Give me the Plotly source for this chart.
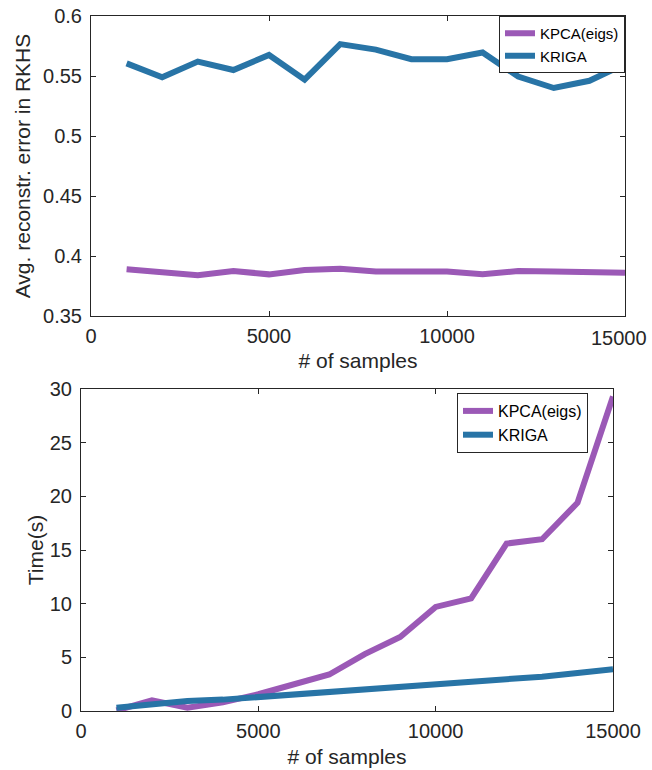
import plotly.graph_objects as go

samples = [1000, 2000, 3000, 4000, 5000, 6000, 7000, 8000, 9000, 10000,
           11000, 12000, 13000, 14000, 15000]

err_kpca = [0.389, 0.386, 0.384, 0.3875, 0.3847, 0.3883, 0.3894, 0.387, 0.3875,
            0.387, 0.3847, 0.3875, 0.387, 0.386, 0.386]
err_kriga = [0.5605, 0.549, 0.562, 0.555, 0.5675, 0.547, 0.5766, 0.572, 0.564,
             0.564, 0.5696, 0.5495, 0.540, 0.546, 0.560]

time_kpca = [0.05, 1.0, 0.3, 0.8, 1.56, 2.5, 3.4, 5.3, 6.9, 9.7, 10.5, 15.6,
             16.0, 19.4, 29.3]
time_kriga = [0.3, 0.62, 0.93, 1.06, 1.3, 1.6, 1.8, 2.05, 2.2, 2.55, 2.8, 3.0,
              3.2, 3.55, 3.9]

top_ticks_y = [0.35, 0.4, 0.45, 0.5, 0.55, 0.6]
top_ticklabels_y = ["0.35", "0.4", "0.45", "0.5", "0.55", "0.6"]
x_ticks = [0, 5000, 10000, 15000]
x_ticklabels_top = ["0", "5000", "10000", ""]
x_ticklabels = ["0", "5000", "10000", "15000"]
bot_ticks_y = [0, 5, 10, 15, 20, 25, 30]
bot_ticklabels_y = ["0", "5", "10", "15", "20", "25", "30"]

PURPLE = "#9B59B6"
BLUE = "#2874A6"
AX = "#262626"
FONT = "Liberation Sans, Arial, sans-serif"
W, H = 652, 770

fig = go.Figure()
fig.add_trace(go.Scatter(x=samples, y=err_kpca, mode="lines", name="KPCA(eigs)",
                         line=dict(color=PURPLE, width=6), xaxis="x", yaxis="y",
                         legend="legend"))
fig.add_trace(go.Scatter(x=samples, y=err_kriga, mode="lines", name="KRIGA",
                         line=dict(color=BLUE, width=6), xaxis="x", yaxis="y",
                         legend="legend"))
fig.add_trace(go.Scatter(x=samples, y=time_kpca, mode="lines", name="KPCA(eigs)",
                         line=dict(color=PURPLE, width=6), xaxis="x2", yaxis="y2",
                         legend="legend2"))
fig.add_trace(go.Scatter(x=samples, y=time_kriga, mode="lines", name="KRIGA",
                         line=dict(color=BLUE, width=6), xaxis="x2", yaxis="y2",
                         legend="legend2"))

axcommon = dict(showline=True, linecolor=AX, linewidth=1, mirror="allticks",
                ticks="inside", ticklen=5, tickcolor=AX, showgrid=False,
                zeroline=False, automargin=False, ticklabeloverflow="allow",
                tickfont=dict(size=20, color=AX, family=FONT))

fig.update_layout(
    template="none",
    width=W, height=H, margin=dict(l=0, r=0, t=0, b=0, pad=0),
    paper_bgcolor="white", plot_bgcolor="white",
    font=dict(family=FONT, color=AX),
    xaxis=dict(domain=[91 / W, 625 / W], range=[0, 15000], tickvals=x_ticks,
               ticktext=x_ticklabels_top, anchor="y", ticklabelstandoff=2,
               title=dict(text="# of samples", font=dict(size=21), standoff=7),
               **axcommon),
    yaxis=dict(domain=[1 - 316 / H, 1 - 16 / H], range=[0.35, 0.6],
               tickvals=top_ticks_y, ticktext=top_ticklabels_y, anchor="x",
               ticklabelstandoff=4,
               title=dict(text="Avg. reconstr. error in RKHS", font=dict(size=21), standoff=6),
               **axcommon),
    xaxis2=dict(domain=[81 / W, 613 / W], range=[0, 15000], tickvals=x_ticks,
                ticktext=x_ticklabels, anchor="y2", ticklabelstandoff=2,
                title=dict(text="# of samples", font=dict(size=21), standoff=8),
                **axcommon),
    yaxis2=dict(domain=[1 - 711 / H, 1 - 389 / H], range=[0, 30],
                tickvals=bot_ticks_y, ticktext=bot_ticklabels_y, anchor="x2",
                ticklabelstandoff=4,
                title=dict(text="Time(s)", font=dict(size=21), standoff=0),
                **axcommon),
    legend=dict(x=625 / W, y=1 - 16 / H, xanchor="right", yanchor="top",
                bgcolor="white", bordercolor=AX, borderwidth=1,
                font=dict(size=15, color="black"), itemwidth=30,
                tracegroupgap=0),
    legend2=dict(x=457 / W, y=1 - 393 / H, xanchor="left", yanchor="top",
                 bgcolor="white", bordercolor=AX, borderwidth=1,
                 font=dict(size=16, color="black"), itemwidth=30,
                 tracegroupgap=0),
    annotations=[dict(text="15000", x=15000, xref="x", y=0.35, yref="y",
                      xanchor="center", yanchor="top", xshift=-6, yshift=-9,
                      showarrow=False, font=dict(size=20, color=AX, family=FONT))],
)

fig.write_html("out.html", config={"displayModeBar": False},
               post_script="document.body.style.margin='0';document.body.style.overflow='hidden';")
